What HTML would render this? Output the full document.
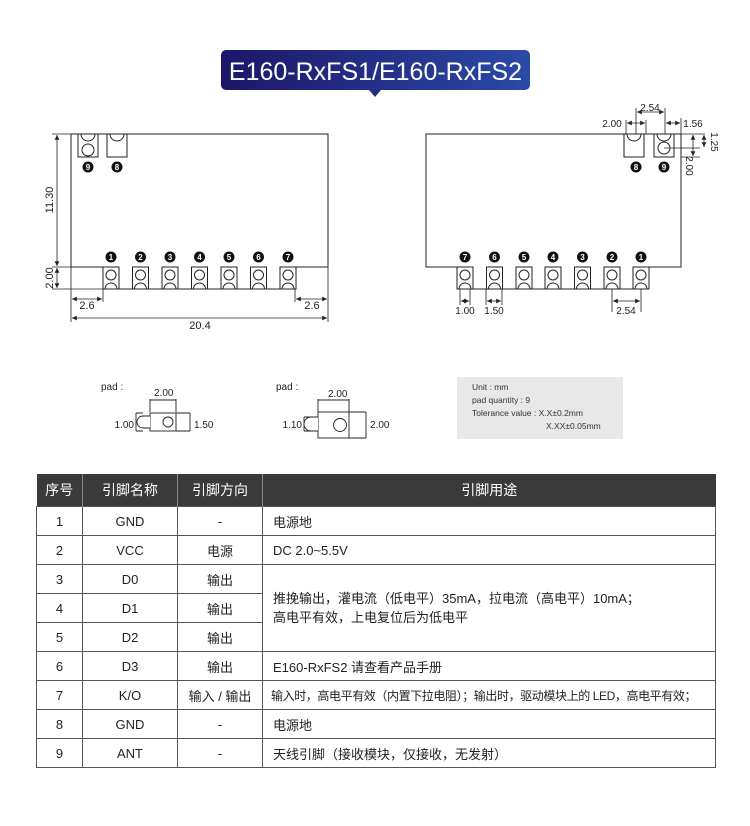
<!DOCTYPE html>
<html><head><meta charset="utf-8">
<style>
body{margin:0;background:#fff;width:750px;height:826px;overflow:hidden;font-family:"Liberation Sans","Noto Sans CJK SC",sans-serif;}
svg{position:absolute;left:0;top:0}
table{position:absolute;left:36px;top:474px;border-collapse:collapse;width:680px;font-size:13px;color:#222;font-family:"Liberation Sans","Noto Sans CJK SC",sans-serif;table-layout:fixed}
th{background:#3a3a3a;color:#fff;font-weight:normal;height:32px;font-size:14px;border-left:1px solid #888;padding:0}
td{border:1px solid #555;height:28px;padding:0;text-align:center;white-space:nowrap;overflow:hidden}
td.l{text-align:left;padding-left:10px}
</style></head><body>
<svg width="750" height="470" viewBox="0 0 750 470" font-family="Liberation Sans, Noto Sans CJK SC, sans-serif">
<defs>
<linearGradient id="g" x1="0" x2="1"><stop offset="0" stop-color="#1d1668"/><stop offset="1" stop-color="#2a4aa6"/></linearGradient>
<g id="bp"><rect x="0" y="0" width="16" height="22" fill="#fff" stroke="#222" stroke-width="1"/><circle cx="8" cy="8" r="5" fill="none" stroke="#222"/><path d="M2,22 A6,6 0 0 1 14,22" fill="none" stroke="#222"/></g>
<g id="tp"><rect x="0" y="0" width="20" height="23" fill="#fff" stroke="#222"/><path d="M3,0 A7,7 0 0 0 17,0" fill="none" stroke="#222"/></g>
<marker id="a" markerWidth="6" markerHeight="6" refX="6" refY="3" orient="auto-start-reverse"><path d="M0,0 L6,3 L0,6z" fill="#222"/></marker>
</defs>
<rect x="221" y="50" width="309" height="40" rx="5" fill="url(#g)"/>
<path d="M369,90 L375,97 L381,90z" fill="#24307f"/>
<text x="375.5" y="80" text-anchor="middle" fill="#fff" font-size="25">E160-RxFS1/E160-RxFS2</text>

<!-- left module -->
<path d="M71,134 L71,267 L103,267 L103,289 L295,289 L295,267 L328,267 L328,134 Z" fill="none" stroke="#222"/>
<g><use href="#bp" x="103" y="267"/><use href="#bp" x="132.5" y="267"/><use href="#bp" x="162" y="267"/><use href="#bp" x="191.5" y="267"/><use href="#bp" x="221" y="267"/><use href="#bp" x="250.5" y="267"/><use href="#bp" x="280" y="267"/></g>
<use href="#tp" x="78" y="134"/><use href="#tp" x="107" y="134"/>
<circle cx="88" cy="150" r="6" fill="none" stroke="#222"/>
<g font-size="8" font-weight="bold" fill="#fff" text-anchor="middle">
<circle cx="88" cy="167" r="5.5" fill="#111"/><text x="88" y="170">9</text>
<circle cx="117" cy="167" r="5.5" fill="#111"/><text x="117" y="170">8</text>
<circle cx="111" cy="257" r="5.5" fill="#111"/><text x="111" y="260">1</text>
<circle cx="140.5" cy="257" r="5.5" fill="#111"/><text x="140.5" y="260">2</text>
<circle cx="170" cy="257" r="5.5" fill="#111"/><text x="170" y="260">3</text>
<circle cx="199.5" cy="257" r="5.5" fill="#111"/><text x="199.5" y="260">4</text>
<circle cx="229" cy="257" r="5.5" fill="#111"/><text x="229" y="260">5</text>
<circle cx="258.5" cy="257" r="5.5" fill="#111"/><text x="258.5" y="260">6</text>
<circle cx="288" cy="257" r="5.5" fill="#111"/><text x="288" y="260">7</text>
</g>
<g stroke="#222" stroke-width="0.8" fill="none">
<path d="M52,134 H71 M52,267 H71 M52,289 H103"/>
<line x1="57" y1="135" x2="57" y2="266" marker-start="url(#a)" marker-end="url(#a)"/>
<line x1="57" y1="268" x2="57" y2="288" marker-start="url(#a)" marker-end="url(#a)"/>
<path d="M71,267 V322 M103,289 V302 M295,289 V302 M328,267 V322"/>
<line x1="72" y1="299" x2="102" y2="299" marker-start="url(#a)" marker-end="url(#a)"/>
<line x1="296" y1="299" x2="327" y2="299" marker-start="url(#a)" marker-end="url(#a)"/>
<line x1="72" y1="318" x2="327" y2="318" marker-start="url(#a)" marker-end="url(#a)"/>
</g>
<g font-size="11" fill="#222" text-anchor="middle">
<text transform="translate(53,200) rotate(-90)">11.30</text>
<text transform="translate(53,278) rotate(-90)">2.00</text>
<text x="87" y="309">2.6</text><text x="312" y="309">2.6</text><text x="200" y="329">20.4</text>
</g>

<!-- right module -->
<path d="M426,134 L426,267 L457,267 L457,289 L649,289 L649,267 L681,267 L681,134 Z" fill="none" stroke="#222"/>
<g><use href="#bp" x="457" y="267"/><use href="#bp" x="486.5" y="267"/><use href="#bp" x="516" y="267"/><use href="#bp" x="545" y="267"/><use href="#bp" x="574.5" y="267"/><use href="#bp" x="604" y="267"/><use href="#bp" x="633" y="267"/></g>
<use href="#tp" x="624" y="134"/><use href="#tp" x="654" y="134"/>
<circle cx="664" cy="148" r="6" fill="none" stroke="#222"/>
<g font-size="8" font-weight="bold" fill="#fff" text-anchor="middle">
<circle cx="636" cy="167" r="5.5" fill="#111"/><text x="636" y="170">8</text>
<circle cx="664" cy="167" r="5.5" fill="#111"/><text x="664" y="170">9</text>
<circle cx="465" cy="257" r="5.5" fill="#111"/><text x="465" y="260">7</text>
<circle cx="494.5" cy="257" r="5.5" fill="#111"/><text x="494.5" y="260">6</text>
<circle cx="524" cy="257" r="5.5" fill="#111"/><text x="524" y="260">5</text>
<circle cx="553" cy="257" r="5.5" fill="#111"/><text x="553" y="260">4</text>
<circle cx="582.5" cy="257" r="5.5" fill="#111"/><text x="582.5" y="260">3</text>
<circle cx="612" cy="257" r="5.5" fill="#111"/><text x="612" y="260">2</text>
<circle cx="641" cy="257" r="5.5" fill="#111"/><text x="641" y="260">1</text>
</g>
<g stroke="#222" stroke-width="0.8" fill="none">
<path d="M626,120 V134 M646,120 V134 M636,108 V134 M665,108 V134 M681,118 V134 M664,148 H700 M681,134 H705 M681,157 H700"/>
<line x1="627" y1="123" x2="645" y2="123" marker-start="url(#a)" marker-end="url(#a)"/>
<line x1="637" y1="112" x2="664" y2="112" marker-start="url(#a)" marker-end="url(#a)"/>
<line x1="666" y1="123" x2="680" y2="123" marker-start="url(#a)" marker-end="url(#a)"/>
<line x1="704" y1="135" x2="704" y2="147" marker-start="url(#a)" marker-end="url(#a)"/>
<line x1="693" y1="135" x2="693" y2="156" marker-start="url(#a)" marker-end="url(#a)"/>
<path d="M460,289 V305 M470,289 V305 M486,289 V305 M502,289 V305 M612,289 V312 M641,289 V312"/>
<line x1="461" y1="301" x2="469" y2="301" marker-start="url(#a)" marker-end="url(#a)"/>
<line x1="487" y1="301" x2="501" y2="301" marker-start="url(#a)" marker-end="url(#a)"/>
<line x1="613" y1="301" x2="640" y2="301" marker-start="url(#a)" marker-end="url(#a)"/>
</g>
<g font-size="10" fill="#222" text-anchor="middle">
<text x="650" y="111">2.54</text><text x="612" y="127">2.00</text><text x="693" y="127">1.56</text>
<text transform="translate(711,142) rotate(90)">1.25</text>
<text transform="translate(686,166) rotate(90)">2.00</text>
<text x="465" y="314">1.00</text><text x="494" y="314">1.50</text><text x="626" y="314">2.54</text>
</g>

<!-- pad details -->
<g font-size="10" fill="#222">
<text x="101" y="390">pad :</text><text x="276" y="390">pad :</text>
<text x="154" y="396">2.00</text><text x="328" y="397">2.00</text>
<text x="134" y="428" text-anchor="end">1.00</text><text x="194" y="428">1.50</text>
<text x="302" y="428" text-anchor="end">1.10</text><text x="370" y="428">2.00</text>
</g>
<g stroke="#222" stroke-width="0.9" fill="none">
<path d="M150,399 V412 M176,399 V412 M150,400 H176"/>
<rect x="150" y="413" width="26" height="18"/>
<path d="M150,416 H143 A6,6 0 0 0 143,428 H150" fill="#fff"/>
<circle cx="168" cy="422" r="5"/>
<path d="M136,413 V431 M136,413 H143 M136,431 H143 M190,413 V431 M176,413 H190 M176,431 H190"/>
<path d="M318,399 V412 M349,399 V412 M318,400 H349"/>
<rect x="318" y="412" width="31" height="26"/>
<path d="M318,417 H311 A7,7 0 0 0 311,431 H318" fill="#fff"/>
<circle cx="340" cy="425" r="6.5"/>
<path d="M304,417 V431 M304,417 H311 M304,431 H311 M366,412 V438 M349,412 H366 M349,438 H366"/>
</g>
<rect x="457" y="377" width="166" height="62" fill="#e8e8e8"/>
<g font-size="8.5" fill="#333">
<text x="472" y="390">Unit : mm</text>
<text x="472" y="403">pad quantity : 9</text>
<text x="472" y="416">Tolerance value : X.X±0.2mm</text>
<text x="546" y="429">X.XX±0.05mm</text>
</g>
</svg>

<table>
<colgroup><col style="width:46px"><col style="width:95px"><col style="width:85px"><col></colgroup>
<tr><th style="border-left:none">序号</th><th>引脚名称</th><th>引脚方向</th><th>引脚用途</th></tr>
<tr><td>1</td><td>GND</td><td>-</td><td class="l">电源地</td></tr>
<tr><td>2</td><td>VCC</td><td>电源</td><td class="l">DC 2.0~5.5V</td></tr>
<tr><td>3</td><td>D0</td><td>输出</td><td class="l" rowspan="3" style="line-height:19px">推挽输出，灌电流（低电平）35mA，拉电流（高电平）10mA；<br>高电平有效，上电复位后为低电平</td></tr>
<tr><td>4</td><td>D1</td><td>输出</td></tr>
<tr><td>5</td><td>D2</td><td>输出</td></tr>
<tr><td>6</td><td>D3</td><td>输出</td><td class="l">E160-RxFS2 请查看产品手册</td></tr>
<tr><td>7</td><td>K/O</td><td>输入 / 输出</td><td class="l" style="font-size:12px;letter-spacing:-0.4px;padding-left:8px">输入时，高电平有效（内置下拉电阻）；输出时，驱动模块上的 LED，高电平有效；</td></tr>
<tr><td>8</td><td>GND</td><td>-</td><td class="l">电源地</td></tr>
<tr><td>9</td><td>ANT</td><td>-</td><td class="l">天线引脚（接收模块，仅接收，无发射）</td></tr>
</table>
</body></html>
